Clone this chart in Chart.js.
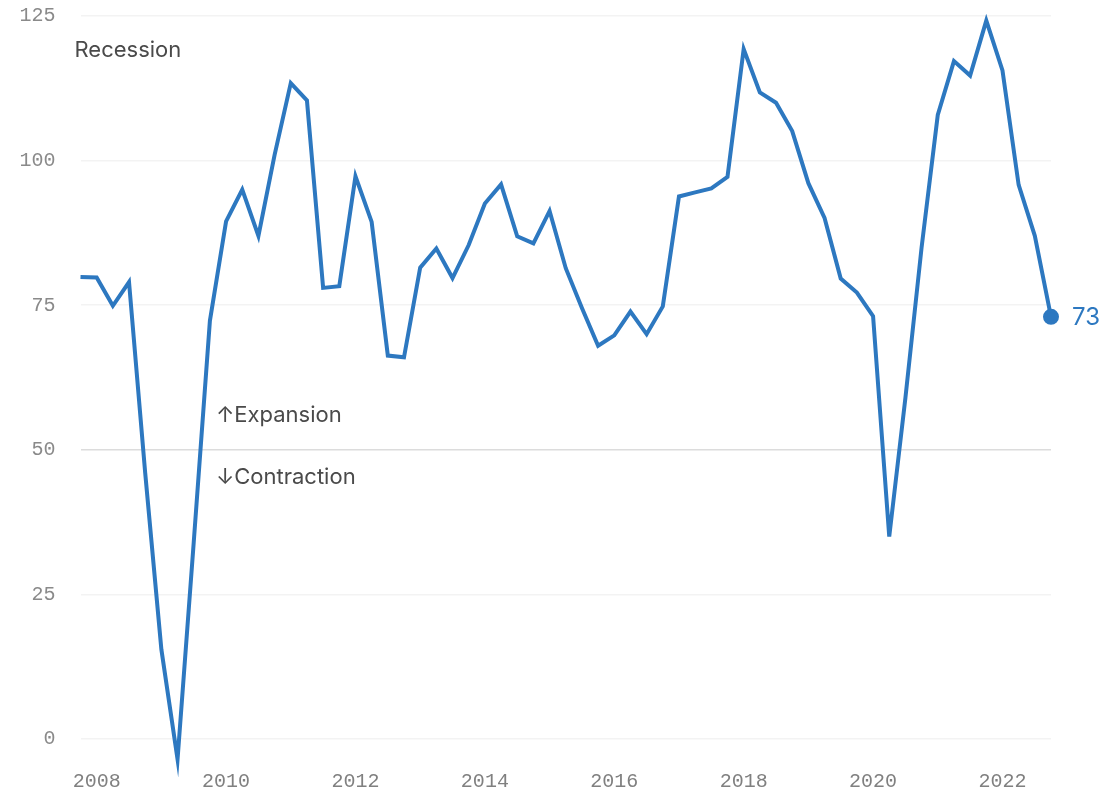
<!DOCTYPE html>
<html lang="en">
<head>
<meta charset="UTF-8">
<title>Index</title>
<script src="https://cdn.jsdelivr.net/npm/chart.js"></script>
<style>
  body { margin: 0; background: #fff; }
  #wrap { position: relative; width: 1107px; height: 794px; }
</style>
</head>
<body>
<div id="wrap"><canvas id="myChart"></canvas></div>
<script>
// quarterly readings, Q4 2007 to Q4 2022
const quarters = [
  '2007 Q4',
  '2008 Q1', '2008 Q2', '2008 Q3', '2008 Q4',
  '2009 Q1', '2009 Q2', '2009 Q3', '2009 Q4',
  '2010 Q1', '2010 Q2', '2010 Q3', '2010 Q4',
  '2011 Q1', '2011 Q2', '2011 Q3', '2011 Q4',
  '2012 Q1', '2012 Q2', '2012 Q3', '2012 Q4',
  '2013 Q1', '2013 Q2', '2013 Q3', '2013 Q4',
  '2014 Q1', '2014 Q2', '2014 Q3', '2014 Q4',
  '2015 Q1', '2015 Q2', '2015 Q3', '2015 Q4',
  '2016 Q1', '2016 Q2', '2016 Q3', '2016 Q4',
  '2017 Q1', '2017 Q2', '2017 Q3', '2017 Q4',
  '2018 Q1', '2018 Q2', '2018 Q3', '2018 Q4',
  '2019 Q1', '2019 Q2', '2019 Q3', '2019 Q4',
  '2020 Q1', '2020 Q2', '2020 Q3', '2020 Q4',
  '2021 Q1', '2021 Q2', '2021 Q3', '2021 Q4',
  '2022 Q1', '2022 Q2', '2022 Q3', '2022 Q4'
];
const values = [
  79.9,
  79.8, 74.9, 79.0, 46,
  15.5, -3.5, 34, 72.3,
  89.5, 95.0, 87.0, 101,
  113.4, 110.4, 78.0, 78.3,
  97.3, 89.4, 66.3, 66.0,
  81.5, 84.8, 79.7, 85.4,
  92.6, 95.9, 86.9, 85.7,
  91.3, 81.4, 74.5, 68.0,
  69.8, 73.9, 70.0, 74.8,
  93.8, 94.5, 95.2, 97.2,
  119.3, 111.8, 110.0, 105.1,
  96.1, 90.1, 79.6, 77.2,
  73.1, 35, 59, 85,
  107.9, 117.2, 114.7, 124.2,
  115.6, 95.8, 87, 73
];
const xTickYears = ['2008', '2010', '2012', '2014', '2016', '2018', '2020', '2022'];
const yTicks = [0, 25, 50, 75, 100, 125];

const blue = '#2d78c0';
const lastIdx = values.length - 1;
const monoFont = "'Liberation Mono', 'DejaVu Sans Mono', monospace";
const sansFont = "Inter, 'Noto Sans', sans-serif";

// text notes + end label
const notes = {
  id: 'notes',
  beforeDatasetsDraw(chart) {
    const { ctx, chartArea, scales: { x, y } } = chart;
    ctx.save();
    ctx.fillStyle = '#4a4a4a';
    ctx.font = '22px ' + sansFont;
    ctx.textAlign = 'left';
    ctx.textBaseline = 'middle';
    ctx.fillText('Recession', chartArea.left - 6, y.getPixelForValue(119));
    const nx = x.getPixelForValue(8) + 6;
    ctx.fillText('\u2191Expansion', nx, y.getPixelForValue(50) - 34);
    ctx.fillText('\u2193Contraction', nx, y.getPixelForValue(50) + 28);
    ctx.restore();
  },
  afterDatasetsDraw(chart) {
    const { ctx, scales: { x, y } } = chart;
    ctx.save();
    ctx.fillStyle = blue;
    ctx.font = '24px ' + sansFont;
    ctx.textAlign = 'left';
    ctx.textBaseline = 'middle';
    ctx.fillText(String(values[lastIdx]), x.getPixelForValue(lastIdx) + 21, y.getPixelForValue(values[lastIdx]) + 1);
    ctx.restore();
  }
};

var ctx = document.getElementById('myChart').getContext('2d');
var myChart = new Chart(ctx, {
  type: 'line',
  data: {
    labels: quarters,
    datasets: [{
      data: values,
      borderColor: blue,
      backgroundColor: blue,
      borderWidth: 4,
      tension: 0,
      pointRadius: (c) => c.dataIndex === lastIdx ? 6 : 0,
      pointHoverRadius: 0,
      clip: false
    }]
  },
  options: {
    responsive: true,
    maintainAspectRatio: false,
    animation: false,
    layout: { padding: { top: 16, right: 56, bottom: 0, left: 0 } },
    plugins: {
      legend: { display: false },
      tooltip: { enabled: false }
    },
    scales: {
      x: {
        grid: { display: false, drawTicks: false },
        border: { display: false },
        afterFit: (s) => { s.height = 26; },
        ticks: {
          autoSkip: false,
          maxRotation: 0,
          padding: 2,
          color: '#808080',
          font: { family: monoFont, size: 20 },
          callback: function (val, i) {
            const q = quarters[i];
            const yr = q.slice(0, 4);
            return q.endsWith('Q1') && xTickYears.includes(yr) ? yr : '';
          }
        }
      },
      y: {
        min: -5,
        max: 125,
        afterFit: (s) => { s.width = 80.5; },
        afterBuildTicks: (s) => { s.ticks = yTicks.map(v => ({ value: v })); },
        border: { display: false },
        grid: {
          drawTicks: true,
          tickLength: 25,
          tickColor: 'rgba(0,0,0,0)',
          lineWidth: 1.5,
          color: (c) => c.tick && c.tick.value === 50 ? '#dcdcdc' : '#f3f3f3'
        },
        ticks: {
          padding: 0,
          color: '#8a8a8a',
          font: { family: monoFont, size: 20 }
        }
      }
    }
  },
  plugins: [notes]
});
</script>
</body>
</html>
